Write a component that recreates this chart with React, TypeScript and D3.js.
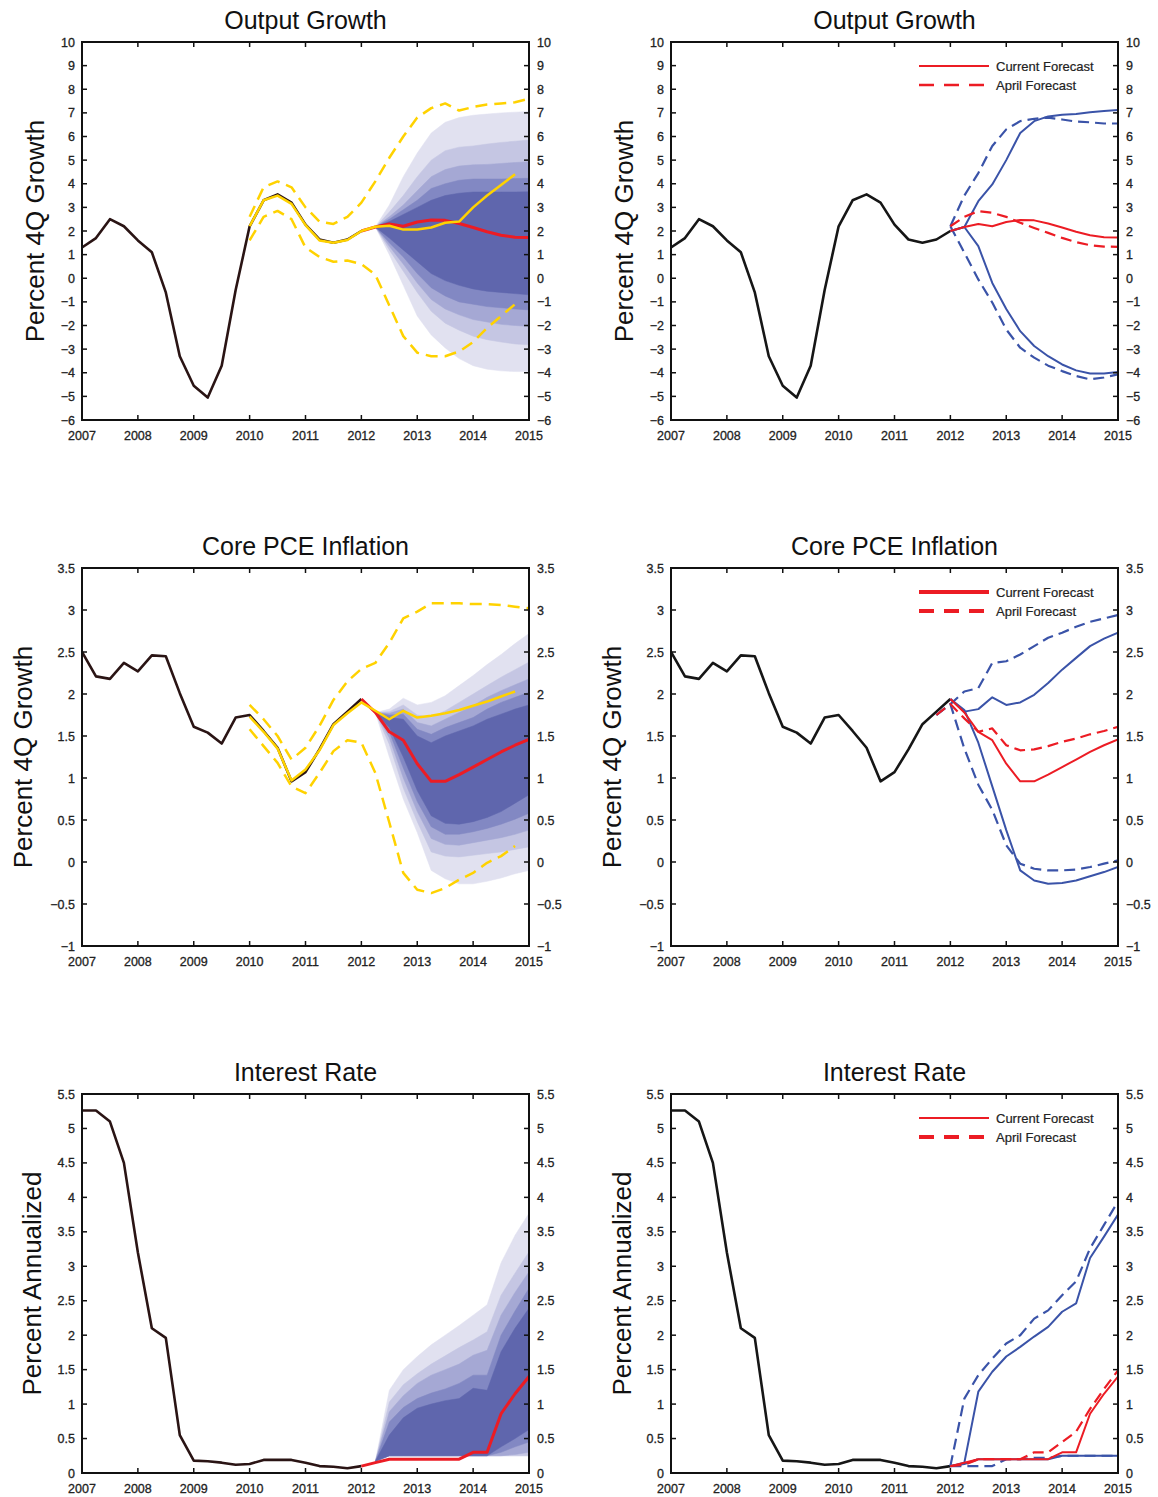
import React from 'react';
import * as d3 from 'd3';

// ---------- categories (quarterly dates) ----------
const quarters = (a: number, b: number) => d3.range(a, b + 0.001, 0.25);
const Q_HIST = quarters(2007, 2012);
const Q_FC = quarters(2012, 2015);
const Q_FAN = quarters(2012.25, 2015);
const Q_2010_1475 = quarters(2010, 2014.75);
const Q_2010_2015 = quarters(2010, 2015);
const Q_1175_2015 = quarters(2011.75, 2015);
const X_TICKS = [2007, 2008, 2009, 2010, 2011, 2012, 2013, 2014, 2015];

// ---------- Output growth ----------
const gdpHist = [1.3, 1.7, 2.5, 2.2, 1.6, 1.1, -0.6, -3.3, -4.55, -5.05, -3.7, -0.5, 2.2, 3.3, 3.55, 3.2, 2.27, 1.64, 1.5, 1.64, 2.0];
const gdpCurrent = [2.0, 2.17, 2.3, 2.2, 2.38, 2.47, 2.45, 2.32, 2.15, 1.97, 1.82, 1.74, 1.72];
const gdpApril = [2.2, 2.6, 2.84, 2.77, 2.6, 2.35, 2.13, 1.92, 1.71, 1.53, 1.4, 1.34, 1.33];
const gdpBlueHiCur = [2.0, 2.17, 3.26, 3.97, 5.0, 6.15, 6.65, 6.85, 6.92, 6.95, 7.03, 7.08, 7.12];
const gdpBlueHiApr = [2.2, 3.5, 4.45, 5.6, 6.3, 6.65, 6.75, 6.8, 6.72, 6.63, 6.6, 6.55, 6.55];
const gdpBlueLoCur = [2.0, 2.17, 1.36, -0.2, -1.3, -2.24, -2.87, -3.3, -3.65, -3.9, -4.03, -4.03, -3.97];
const gdpBlueLoApr = [2.2, 1.08, -0.05, -1.03, -2.17, -2.94, -3.36, -3.7, -3.93, -4.14, -4.28, -4.2, -4.07];
const gdpYellow = [2.2, 3.3, 3.5, 3.15, 2.25, 1.6, 1.5, 1.62, 2.0, 2.18, 2.22, 2.06, 2.06, 2.15, 2.35, 2.4, 3.0, 3.5, 3.95, 4.4];
const gdpYellowHi = [2.6, 3.85, 4.1, 3.85, 3.0, 2.4, 2.3, 2.6, 3.2, 4.1, 5.1, 6.0, 6.8, 7.2, 7.4, 7.1, 7.25, 7.35, 7.4, 7.45, 7.6];
const gdpYellowLo = [1.6, 2.6, 2.85, 2.5, 1.3, 0.9, 0.7, 0.75, 0.6, 0.15, -1.15, -2.45, -3.15, -3.3, -3.3, -3.1, -2.7, -2.1, -1.6, -1.1];
const gdpFanHi = [
  [2.17, 3.1, 4.3, 5.3, 6.15, 6.6, 6.8, 6.9, 6.95, 7.0, 7.03, 7.06],
  [2.17, 2.8, 3.5, 4.3, 5.0, 5.4, 5.55, 5.6, 5.68, 5.75, 5.8, 5.85],
  [2.17, 2.6, 3.1, 3.7, 4.3, 4.6, 4.75, 4.8, 4.82, 4.86, 4.9, 4.93],
  [2.17, 2.5, 2.9, 3.3, 3.8, 4.0, 4.15, 4.2, 4.2, 4.2, 4.22, 4.23],
  [2.17, 2.4, 2.7, 3.0, 3.3, 3.5, 3.6, 3.65, 3.65, 3.65, 3.65, 3.66],
];
const gdpFanLo = [
  [2.17, 1.0, -0.3, -1.6, -2.4, -2.95, -3.4, -3.7, -3.85, -3.92, -3.95, -3.95],
  [2.17, 1.2, 0.3, -0.6, -1.4, -1.9, -2.2, -2.45, -2.6, -2.7, -2.78, -2.82],
  [2.17, 1.35, 0.6, -0.2, -0.9, -1.3, -1.55, -1.75, -1.85, -1.95, -2.0, -2.04],
  [2.17, 1.5, 0.9, 0.2, -0.4, -0.75, -1.0, -1.1, -1.2, -1.25, -1.3, -1.34],
  [2.17, 1.7, 1.2, 0.7, 0.2, -0.1, -0.3, -0.45, -0.55, -0.6, -0.65, -0.7],
];

// ---------- Core PCE ----------
const pceHist = [2.5, 2.21, 2.18, 2.37, 2.27, 2.46, 2.45, 2.01, 1.61, 1.54, 1.41, 1.72, 1.75, 1.56, 1.36, 0.96, 1.07, 1.34, 1.64, 1.79, 1.94];
const pceCurrent = [1.94, 1.78, 1.55, 1.45, 1.17, 0.96, 0.96, 1.04, 1.13, 1.22, 1.31, 1.39, 1.46];
const pceApril = [1.75, 1.88, 1.71, 1.55, 1.59, 1.39, 1.33, 1.34, 1.38, 1.43, 1.47, 1.52, 1.56, 1.61];
const pceBlueHiCur = [1.94, 1.79, 1.82, 1.96, 1.87, 1.9, 1.99, 2.13, 2.29, 2.43, 2.57, 2.66, 2.73];
const pceBlueHiApr = [1.75, 1.88, 2.03, 2.07, 2.37, 2.39, 2.47, 2.57, 2.67, 2.73, 2.8, 2.86, 2.9, 2.94];
const pceBlueLoCur = [1.94, 1.81, 1.42, 0.9, 0.38, -0.1, -0.22, -0.26, -0.25, -0.22, -0.17, -0.12, -0.06];
const pceBlueLoApr = [1.75, 1.88, 1.35, 0.92, 0.62, 0.2, -0.02, -0.08, -0.1, -0.1, -0.09, -0.06, -0.02, 0.02];
const pceYellow = [1.73, 1.55, 1.35, 0.97, 1.1, 1.33, 1.63, 1.77, 1.9, 1.8, 1.7, 1.8, 1.72, 1.74, 1.77, 1.81, 1.86, 1.91, 1.97, 2.03];
const pceYellowHi = [1.87, 1.7, 1.5, 1.22, 1.36, 1.62, 1.93, 2.15, 2.3, 2.37, 2.61, 2.9, 2.98, 3.08, 3.08, 3.08, 3.07, 3.07, 3.06, 3.04, 3.02];
const pceYellowLo = [1.58, 1.38, 1.18, 0.9, 0.82, 1.06, 1.32, 1.45, 1.42, 1.06, 0.47, -0.13, -0.33, -0.37, -0.31, -0.21, -0.13, -0.01, 0.07, 0.19];
const pceFanHi = [
  [1.78, 1.82, 1.95, 1.87, 1.9, 1.98, 2.1, 2.22, 2.35, 2.47, 2.6, 2.72],
  [1.78, 1.79, 1.87, 1.75, 1.72, 1.8, 1.9, 2.0, 2.1, 2.2, 2.29, 2.38],
  [1.78, 1.77, 1.82, 1.66, 1.62, 1.7, 1.78, 1.86, 1.96, 2.04, 2.11, 2.18],
  [1.78, 1.75, 1.76, 1.58, 1.52, 1.6, 1.66, 1.72, 1.82, 1.9, 1.96, 2.02],
  [1.78, 1.72, 1.7, 1.5, 1.42, 1.5, 1.56, 1.62, 1.7, 1.76, 1.82, 1.87],
];
const pceFanLo = [
  [1.78, 1.25, 0.75, 0.35, -0.1, -0.2, -0.26, -0.26, -0.23, -0.19, -0.14, -0.1],
  [1.78, 1.4, 0.88, 0.48, 0.12, 0.07, 0.06, 0.08, 0.1, 0.12, 0.15, 0.18],
  [1.78, 1.48, 1.0, 0.6, 0.28, 0.21, 0.2, 0.23, 0.26, 0.29, 0.33, 0.38],
  [1.78, 1.55, 1.12, 0.72, 0.42, 0.33, 0.33, 0.36, 0.4, 0.45, 0.51, 0.58],
  [1.78, 1.6, 1.25, 0.85, 0.55, 0.46, 0.45, 0.48, 0.53, 0.6, 0.7, 0.8],
];

// ---------- Interest rate ----------
const rateHist = [5.26, 5.26, 5.1, 4.5, 3.2, 2.1, 1.96, 0.55, 0.18, 0.17, 0.15, 0.12, 0.13, 0.19, 0.19, 0.19, 0.15, 0.1, 0.09, 0.07, 0.1];
const rateCurrent = [0.1, 0.15, 0.2, 0.2, 0.2, 0.2, 0.2, 0.2, 0.3, 0.3, 0.86, 1.15, 1.4];
const rateApril = [0.1, 0.12, 0.2, 0.2, 0.2, 0.2, 0.3, 0.3, 0.45, 0.6, 0.93, 1.22, 1.49];
const rateBlueHiCur = [0.1, 0.15, 1.18, 1.47, 1.69, 1.83, 1.98, 2.12, 2.34, 2.46, 3.12, 3.43, 3.75];
const rateBlueHiApr = [0.1, 1.08, 1.42, 1.66, 1.88, 2.0, 2.24, 2.36, 2.58, 2.78, 3.26, 3.6, 3.94];
const rateBlueLoCur = [0.1, 0.13, 0.2, 0.2, 0.2, 0.2, 0.2, 0.2, 0.25, 0.25, 0.25, 0.25, 0.25];
const rateBlueLoApr = [0.1, 0.1, 0.1, 0.1, 0.2, 0.2, 0.22, 0.22, 0.25, 0.25, 0.25, 0.25, 0.25];
const rateFanHi = [
  [0.17, 1.2, 1.5, 1.69, 1.86, 2.0, 2.14, 2.29, 2.44, 3.05, 3.45, 3.77],
  [0.17, 1.03, 1.28, 1.44, 1.58, 1.7, 1.82, 1.93, 2.05, 2.58, 2.9, 3.21],
  [0.17, 0.89, 1.12, 1.3, 1.42, 1.5, 1.58, 1.71, 1.78, 2.29, 2.62, 2.92],
  [0.17, 0.74, 0.95, 1.08, 1.16, 1.22, 1.3, 1.42, 1.42, 2.0, 2.35, 2.68],
  [0.17, 0.55, 0.8, 0.94, 1.0, 1.05, 1.08, 1.23, 1.2, 1.76, 2.1, 2.39],
];
const rateFanLo = [
  [0.17, 0.25, 0.25, 0.25, 0.25, 0.25, 0.25, 0.25, 0.25, 0.25, 0.25, 0.25],
  [0.17, 0.25, 0.25, 0.25, 0.25, 0.25, 0.25, 0.25, 0.25, 0.25, 0.25, 0.25],
  [0.17, 0.25, 0.25, 0.25, 0.25, 0.25, 0.25, 0.25, 0.25, 0.25, 0.27, 0.3],
  [0.17, 0.25, 0.25, 0.25, 0.25, 0.25, 0.25, 0.25, 0.25, 0.3, 0.38, 0.45],
  [0.17, 0.25, 0.25, 0.25, 0.25, 0.25, 0.25, 0.25, 0.25, 0.38, 0.5, 0.63],
];

// ---------- axis tick values ----------
const gdpTicks = d3.range(-6, 10.01, 1);
const pceTicks = d3.range(-1, 3.51, 0.5);
const rateTicks = d3.range(0, 5.51, 0.5);

// ---------- styles ----------
const FAN_COLORS = ['#e1e1f0', '#c5c6e3', '#a5a8d4', '#8288c3', '#5f66ad'];
const RED = '#ec1c24';
const BLUE = '#3a53a8';
const YELLOW = '#ffd200';
const HIST_LEFT = '#2a1414';
const HIST_RIGHT = '#161616';
const FONT = '"Liberation Sans", Arial, Helvetica, sans-serif';

const COL_X = [82, 671];
const ROW_Y = [42, 568, 1094];
const ROW_H = [378, 378, 379];
const PW = 447;

type LineSpec = { x: number[]; y: number[]; color: string; width: number; dash?: string };
type FanSpec = { x: number[]; hi: number[][]; lo: number[][] };
type PanelSpec = {
  col: number; row: number; title: string; ylabel: string; ylabelX: number;
  domain: [number, number]; ticks: number[]; fan?: FanSpec; lines: LineSpec[];
  legend?: { solidW: number; dashW: number };
};

const fmt = d3.format('~g');
const TICK_FONT = 12.5;

function Panel({ s, id }: { s: PanelSpec; id: string }) {
  const x0 = COL_X[s.col];
  const y0 = ROW_Y[s.row];
  const h = ROW_H[s.row];
  const x = d3.scaleLinear().domain([2007, 2015]).range([x0, x0 + PW]);
  const y = d3.scaleLinear().domain(s.domain).range([y0 + h, y0]);
  const line = (xs: number[], ys: number[]) =>
    d3.line<number>().x((_, i) => x(xs[i])).y((v) => y(v))(ys) || '';
  const area = (xs: number[], lo: number[], hi: number[]) =>
    d3.area<number>().x((_, i) => x(xs[i])).y0((_, i) => y(lo[i])).y1((v) => y(v))(hi) || '';
  const tickLen = 5;
  const cy = y0 + h / 2;
  const lab = { fontSize: TICK_FONT, fontFamily: FONT, fill: '#222', stroke: '#222', strokeWidth: 0.3 };
  return (
    <g>
      <defs>
        <clipPath id={id}>
          <rect x={x0} y={y0} width={PW} height={h} />
        </clipPath>
      </defs>
      <text x={x0 + PW / 2} y={y0 - 13} textAnchor="middle" fontSize={25} fontFamily={FONT} fill="#111">{s.title}</text>
      <text transform={`translate(${s.ylabelX},${cy}) rotate(-90)`} textAnchor="middle" fontSize={26} fontFamily={FONT} fill="#111">{s.ylabel}</text>
      <g clipPath={`url(#${id})`}>
        {s.fan && s.fan.hi.map((hi, k) => (
          <path key={k} d={area(s.fan!.x, s.fan!.lo[k], hi)} fill={FAN_COLORS[k]} stroke={FAN_COLORS[k]} strokeWidth={0.5} />
        ))}
        {s.lines.map((l, k) => (
          <path key={k} d={line(l.x, l.y)} fill="none" stroke={l.color} strokeWidth={l.width}
            strokeDasharray={l.dash} strokeLinejoin="round" />
        ))}
      </g>
      {s.ticks.map((t) => (
        <g key={'y' + t}>
          <line x1={x0} x2={x0 + tickLen} y1={y(t)} y2={y(t)} stroke="#111" strokeWidth={1.5} />
          <line x1={x0 + PW} x2={x0 + PW - tickLen} y1={y(t)} y2={y(t)} stroke="#111" strokeWidth={1.5} />
          <text x={x0 - 7} y={y(t)} dy="0.36em" textAnchor="end" {...lab}>{fmt(t)}</text>
          <text x={x0 + PW + 8} y={y(t)} dy="0.36em" textAnchor="start" {...lab}>{fmt(t)}</text>
        </g>
      ))}
      {X_TICKS.map((t) => (
        <g key={'x' + t}>
          <line x1={x(t)} x2={x(t)} y1={y0 + h} y2={y0 + h - tickLen} stroke="#111" strokeWidth={1.5} />
          <line x1={x(t)} x2={x(t)} y1={y0} y2={y0 + tickLen} stroke="#111" strokeWidth={1.5} />
          <text x={x(t)} y={y0 + h + 20} textAnchor="middle" {...lab}>{t}</text>
        </g>
      ))}
      <rect x={x0} y={y0} width={PW} height={h} fill="none" stroke="#111" strokeWidth={2} />
      {s.legend && (
        <g>
          <line x1={x0 + PW - 199} x2={x0 + PW - 129} y1={y0 + 24} y2={y0 + 24} stroke={RED} strokeWidth={s.legend.solidW} />
          <line x1={x0 + PW - 199} x2={x0 + PW - 129} y1={y0 + 43} y2={y0 + 43} stroke={RED} strokeWidth={s.legend.dashW} strokeDasharray="15 10" />
          <text x={x0 + PW - 122} y={y0 + 24} dy="0.36em" fontSize={13} fontFamily={FONT} fill="#222" stroke="#222" strokeWidth={0.2}>Current Forecast</text>
          <text x={x0 + PW - 122} y={y0 + 43} dy="0.36em" fontSize={13} fontFamily={FONT} fill="#222" stroke="#222" strokeWidth={0.2}>April Forecast</text>
        </g>
      )}
    </g>
  );
}

const YD = '12 7';
const BD = '11 6';

const panels: PanelSpec[] = [
  {
    col: 0, row: 0, title: 'Output Growth', ylabel: 'Percent 4Q Growth', ylabelX: 44,
    domain: [-6, 10], ticks: gdpTicks,
    fan: { x: Q_FAN, hi: gdpFanHi, lo: gdpFanLo },
    lines: [
      { x: Q_HIST, y: gdpHist, color: HIST_LEFT, width: 2.6 },
      { x: Q_2010_2015, y: gdpYellowHi, color: YELLOW, width: 2.5, dash: YD },
      { x: Q_2010_1475, y: gdpYellowLo, color: YELLOW, width: 2.5, dash: YD },
      { x: Q_FC, y: gdpCurrent, color: RED, width: 3 },
      { x: Q_2010_1475, y: gdpYellow, color: YELLOW, width: 2.5 },
    ],
  },
  {
    col: 1, row: 0, title: 'Output Growth', ylabel: 'Percent 4Q Growth', ylabelX: 633,
    domain: [-6, 10], ticks: gdpTicks, legend: { solidW: 2, dashW: 2.5 },
    lines: [
      { x: Q_HIST, y: gdpHist, color: HIST_RIGHT, width: 2.6 },
      { x: Q_FC, y: gdpBlueHiApr, color: BLUE, width: 2.2, dash: BD },
      { x: Q_FC, y: gdpBlueLoApr, color: BLUE, width: 2.2, dash: BD },
      { x: Q_FC, y: gdpBlueHiCur, color: BLUE, width: 2 },
      { x: Q_FC, y: gdpBlueLoCur, color: BLUE, width: 2 },
      { x: Q_FC, y: gdpApril, color: RED, width: 2.2, dash: BD },
      { x: Q_FC, y: gdpCurrent, color: RED, width: 2 },
    ],
  },
  {
    col: 0, row: 1, title: 'Core PCE Inflation', ylabel: 'Percent 4Q Growth', ylabelX: 32,
    domain: [-1, 3.5], ticks: pceTicks,
    fan: { x: Q_FAN, hi: pceFanHi, lo: pceFanLo },
    lines: [
      { x: Q_HIST, y: pceHist, color: HIST_LEFT, width: 2.6 },
      { x: Q_2010_2015, y: pceYellowHi, color: YELLOW, width: 2.5, dash: YD },
      { x: Q_2010_1475, y: pceYellowLo, color: YELLOW, width: 2.5, dash: YD },
      { x: Q_FC, y: pceCurrent, color: RED, width: 3 },
      { x: Q_2010_1475, y: pceYellow, color: YELLOW, width: 2.5 },
    ],
  },
  {
    col: 1, row: 1, title: 'Core PCE Inflation', ylabel: 'Percent 4Q Growth', ylabelX: 621,
    domain: [-1, 3.5], ticks: pceTicks, legend: { solidW: 4, dashW: 4 },
    lines: [
      { x: Q_HIST, y: pceHist, color: HIST_RIGHT, width: 2.6 },
      { x: Q_1175_2015, y: pceBlueHiApr, color: BLUE, width: 2.2, dash: BD },
      { x: Q_1175_2015, y: pceBlueLoApr, color: BLUE, width: 2.2, dash: BD },
      { x: Q_FC, y: pceBlueHiCur, color: BLUE, width: 2 },
      { x: Q_FC, y: pceBlueLoCur, color: BLUE, width: 2 },
      { x: Q_1175_2015, y: pceApril, color: RED, width: 2.2, dash: BD },
      { x: Q_FC, y: pceCurrent, color: RED, width: 2 },
    ],
  },
  {
    col: 0, row: 2, title: 'Interest Rate', ylabel: 'Percent Annualized', ylabelX: 41,
    domain: [0, 5.5], ticks: rateTicks,
    fan: { x: Q_FAN, hi: rateFanHi, lo: rateFanLo },
    lines: [
      { x: Q_HIST, y: rateHist, color: HIST_LEFT, width: 2.6 },
      { x: Q_FC, y: rateCurrent, color: RED, width: 3 },
    ],
  },
  {
    col: 1, row: 2, title: 'Interest Rate', ylabel: 'Percent Annualized', ylabelX: 631,
    domain: [0, 5.5], ticks: rateTicks, legend: { solidW: 2, dashW: 4 },
    lines: [
      { x: Q_HIST, y: rateHist, color: HIST_RIGHT, width: 2.6 },
      { x: Q_FC, y: rateBlueHiApr, color: BLUE, width: 2.2, dash: BD },
      { x: Q_FC, y: rateBlueLoApr, color: BLUE, width: 2.2, dash: BD },
      { x: Q_FC, y: rateBlueHiCur, color: BLUE, width: 2 },
      { x: Q_FC, y: rateBlueLoCur, color: BLUE, width: 2 },
      { x: Q_FC, y: rateApril, color: RED, width: 2.2, dash: BD },
      { x: Q_FC, y: rateCurrent, color: RED, width: 2 },
    ],
  },
];

export default function App() {
  return (
    <svg width={1158} height={1497} viewBox="0 0 1158 1497"
      style={{ position: 'absolute', left: 0, top: 0, background: '#fff' }}>
      <rect x={0} y={0} width={1158} height={1497} fill="#fff" />
      {panels.map((p, i) => <Panel key={i} s={p} id={'clip' + i} />)}
    </svg>
  );
}
